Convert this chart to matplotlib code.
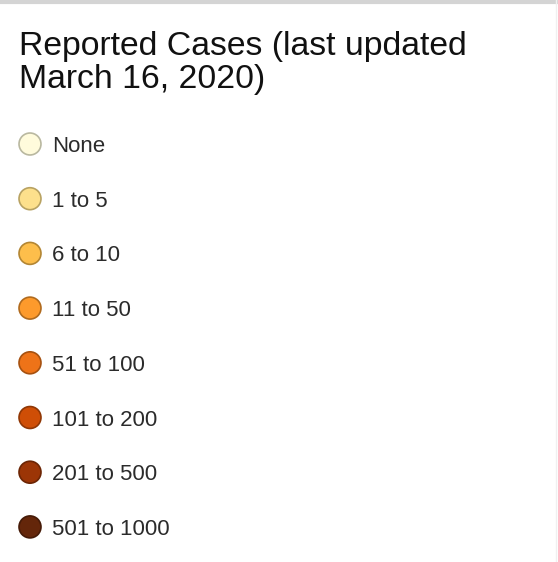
import matplotlib.pyplot as plt

title_lines = ["Reported Cases (last updated", "March 16, 2020)"]
labels = ["None", "1 to 5", "6 to 10", "11 to 50", "51 to 100",
          "101 to 200", "201 to 500", "501 to 1000"]
colors = ["#fffbdc", "#fde08c", "#fdbe4b", "#fd9a2c", "#ee7318",
          "#cf4e06", "#9c3506", "#64260a"]
edges = ["#b9b8a0", "#b8a262", "#b38634", "#b06a1e", "#a65110",
         "#903705", "#6c2504", "#451a07"]

W, H = 558, 562
fig = plt.figure(figsize=(W / 100, H / 100), dpi=100)
ax = fig.add_axes([0, 0, 1, 1])
ax.set_xlim(0, W)
ax.set_ylim(H, 0)
ax.axis("off")

font = "Liberation Sans"

# frame lines of the panel
ax.axhline(2, color="#d4d4d4", lw=3)
ax.axvline(556, color="#f0f0f0", lw=1)

for i, line in enumerate(title_lines):
    ax.text(19, 55 + i * 33, line, fontsize=24.3, family=font,
            color="#111111", va="baseline", ha="left")

ys = [144 + i * 54.7 for i in range(len(labels))]
ax.scatter([30] * len(labels), ys, s=250, c=colors, edgecolors=edges,
           linewidths=1.2, zorder=3)
for y, lab in zip(ys, labels):
    ax.text(52, y, lab, fontsize=16, family=font, color="#2b2b2b",
            va="center_baseline", ha="left")

fig.savefig("out.png", dpi=100, facecolor="white")
